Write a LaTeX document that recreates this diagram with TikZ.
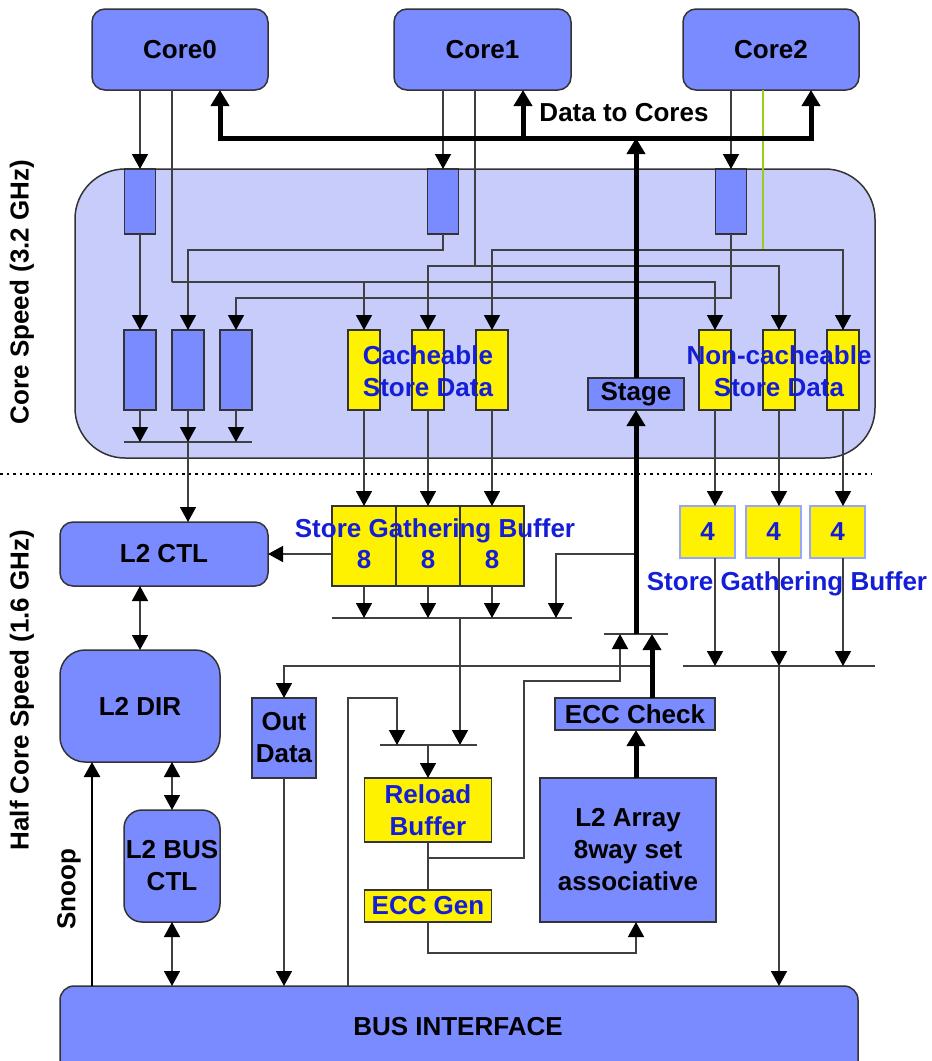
\documentclass[tikz,border=0pt]{standalone}
\usepackage{fontspec}
\setmainfont{Liberation Sans}
\usetikzlibrary{arrows.meta}
\definecolor{nb}{RGB}{122,138,255}
\definecolor{lav}{RGB}{200,204,250}
\definecolor{bd}{RGB}{51,51,51}
\definecolor{wr}{RGB}{64,64,64}
\definecolor{tb}{RGB}{20,30,215}
\definecolor{gl}{RGB}{153,204,30}
\definecolor{lb}{RGB}{150,165,255}
\tikzset{
  sz/.style 2 args={minimum width=#1pt, minimum height=#2pt},
  lbl/.style={font=\fontsize{26}{32}\selectfont\bfseries},
  bx/.style={draw=bd, line width=1.5pt, fill=nb},
  rbx/.style={bx, rounded corners=13pt},
  ybx/.style={draw=bd, line width=1.5pt, fill=yellow},
  wire/.style={draw=wr, line width=1.5pt},
  arr/.style={wire, -{Triangle[length=15pt,width=16pt,color=black]}},
  darr/.style={wire, {Triangle[length=15pt,width=16pt,color=black]}-{Triangle[length=15pt,width=16pt,color=black]}},
  thk/.style={draw=black, line width=5pt},
  tarr/.style={thk, -{Triangle[length=16pt,width=18pt]}},
  bt/.style={text=tb},
}
\begin{document}
\begin{tikzpicture}[x=1pt,y=-1pt, every node/.style={inner sep=0pt, outer sep=0pt, lbl}]
\useasboundingbox (0,0) rectangle (932,1061);
% cores
\node[rbx, sz={176}{81}] (c0) at (180,49.5) {Core0};
\node[rbx, sz={177}{81}] (c1) at (482.5,49.5) {Core1};
\node[rbx, sz={176}{81}] (c2) at (771,49.5) {Core2};
% core-speed region
\node[draw=bd, line width=1.5pt, fill=lav, rounded corners=50pt, sz={800}{289}] (reg) at (475,313.5) {};
\node[bx, sz={31}{65}] (l0) at (140,201.5) {};
\node[bx, sz={31}{65}] (l1) at (443,201.5) {};
\node[bx, sz={31}{65}] (l2) at (731,201.5) {};
\foreach \n/\x in {b1/140,b2/188,b3/236} \node[bx, sz={32}{80}] (\n) at (\x,370) {};
\foreach \n/\x in {y1/364,y2/428,y3/492,n1/715,n2/779,n3/843} \node[ybx, sz={32}{80}] (\n) at (\x,370) {};
\node[bx, sz={96}{32}] (stg) at (636,394) {Stage};
% half-speed blocks
\node[rbx, sz={208}{64}] (ctl) at (164,554) {L2 CTL};
\node[rbx, rounded corners=25pt, sz={160}{112}] (dir) at (140,706) {L2 DIR};
\node[rbx, rounded corners=18pt, sz={96}{112}, align=center] (bctl) at (172,866) {L2 BUS\\CTL};
\node[rbx, rounded corners=14pt, sz={798}{92}] (bus) at (459,1032) {};
\foreach \n/\x in {s1/364,s2/428,s3/492} \node[ybx, sz={64}{80}] (\n) at (\x,546) {};
\foreach \n/\x in {g1/707.5,g2/773.5,g3/837.5} \node[ybx, draw=lb, sz={55}{52}, text=tb] (\n) at (\x,532) {4};
\node[bx, sz={64}{80}, align=center] (od) at (284,738) {Out\\Data};
\node[ybx, sz={127}{64}, align=center, text=tb] (rb) at (428,810) {Reload\\Buffer};
\node[ybx, sz={127}{32}, text=tb] (eg) at (428,906) {ECC Gen};
\node[bx, sz={176}{144}, align=center] (l2a) at (628,850) {L2 Array\\8way set\\associative};
\node[bx, sz={160}{32}] (ecc) at (635,714) {ECC Check};
% coordinates
\coordinate (t0) at (172,90);
\coordinate (t1) at (475,90);
\coordinate (t2) at (763,90);
\coordinate (h0) at (172,282);
\coordinate (h1) at (475,266);
\coordinate (h2) at (763,250);
\coordinate (cl) at (124,442);
\coordinate (cr) at (252,442);
\coordinate (sm) at (332,618);
\coordinate (smr) at (572,618);
\coordinate (gm) at (683,666);
\coordinate (gmr) at (875,666);
\coordinate (mx) at (604,634);
\coordinate (mxr) at (668,634);
\coordinate (rm) at (380,745);
\coordinate (rmr) at (477,745);
\coordinate (xa) at (348,0);
% dotted divider
\draw[line width=2.5pt, dash pattern=on 2.5pt off 4pt] (0,474) -- (872,474);
% core -> latch
\draw[arr] (l0.north |- c0.south) -- (l0.north);
\draw[arr] (l1.north |- c1.south) -- (l1.north);
\draw[arr] (l2.north |- c2.south) -- (l2.north);
% latch -> blue boxes
\draw[arr] (l0.south) -- (b1.north);
\draw[arr] (l1.south) -- (443,250) -| (b2.north);
\draw[arr] (l2.south) -- (731,298) -| (b3.north);
% thin core lines to store data
\draw[wire] (t0) -- (h0);
\draw[arr] (h0) -| (n1.north);
\draw[arr] (y1.north |- h0) -- (y1.north);
\draw[wire] (t1) -- (h1);
\draw[arr] (h1) -| (n2.north);
\draw[arr] (h1) -| (y2.north);
\draw[draw=gl, line width=1.2pt] (t2) -- (h2);
\draw[arr] (h2) -| (n3.north);
\draw[arr] (h2) -| (y3.north);
% collector under blue boxes
\draw[wire] (cl) -- (cr);
\draw[arr] (b1.south) -- (b1.south |- cl);
\draw[arr] (b2.south) -- (b2.south |- cl);
\draw[arr] (b3.south) -- (b3.south |- cl);
\draw[arr] (b2.south |- cl) -- (b2.south |- ctl.north);
% store data -> gathering buffers
\draw[arr] (y1.south) -- (s1.north);
\draw[arr] (y2.south) -- (s2.north);
\draw[arr] (y3.south) -- (s3.north);
\draw[arr] (n1.south) -- (n1.south |- g1.north);
\draw[arr] (n2.south) -- (n2.south |- g2.north);
\draw[arr] (n3.south) -- (n3.south |- g3.north);
% non-cacheable merge
\draw[wire] (gm) -- (gmr);
\draw[arr] (n1.south |- g1.south) -- (n1.south |- gm);
\draw[arr] (n2.south |- g2.south) -- (n2.south |- gm);
\draw[arr] (n3.south |- g3.south) -- (n3.south |- gm);
\draw[arr] (n2.south |- gm) -- (n2.south |- bus.north);
% cacheable SGB
\draw[arr] (s1.west |- ctl.east) -- (ctl.east);
\draw[wire] (sm) -- (smr);
\draw[arr] (s1.south) -- (s1.south |- sm);
\draw[arr] (s2.south) -- (s2.south |- sm);
\draw[arr] (s3.south) -- (s3.south |- sm);
\draw[arr] (636,554) -- (556,554) -- (556,618);
\draw[arr] (460,618) -- (460,745);
% reload mux
\draw[wire] (rm) -- (rmr);
\draw[arr] (bus.north -| xa) -- (348,698) -- (397,698) -- (397,745);
\draw[arr] (rb.north |- rm) -- (rb.north);
\draw[wire] (rb.south) -- (eg.north);
\draw[arr] (428,858) -- (524,858) -- (524,681) -- (620,681) -- (620,634);
\draw[arr] (eg.south) -- (428,953) -- (636,953) -- (636,922);
% ECC mux
\draw[wire] (mx) -- (mxr);
\draw[arr] (652,666) -| (od.north);
\draw[arr] (od.south) -- (od.south |- bus.north);
% thick data path
\draw[tarr] (636,778) -- (636,730);
\draw[tarr] (652,698) -- (652,634);
\draw[tarr] (636,634) -- (stg.south);
\draw[tarr] (stg.north) -- (636,138);
\draw[thk, line join=miter, {Triangle[length=16pt,width=18pt]}-{Triangle[length=16pt,width=18pt]}] (220,90) -- (220,138) -- (811,138) -- (811,90);
\draw[tarr] (523,138) -- (523,90);
% L2 control side
\draw[darr] (ctl.south -| dir.north) -- (dir.north);
\draw[darr] (bctl.north |- dir.south) -- (bctl.north);
\draw[darr] (bctl.south) -- (bctl.south |- bus.north);
\draw[draw=black, line width=2.5pt, -{Triangle[length=15pt,width=16pt]}] (92,986) -- (92,762);
% labels
\node at (624,113) {Data to Cores};
\node[bt, align=center] at (428,371) {Cacheable\\Store Data};
\node[bt, align=center] at (779,371) {Non-cacheable\\Store Data};
\node[bt] at (435,531) {Store Gathering Buffer};
\node[bt] at (364,560) {8};
\node[bt] at (428,560) {8};
\node[bt] at (492,560) {8};
\node[bt] at (787,584) {Store Gathering Buffer};
\node at (458,1027) {BUS INTERFACE};
\node[rotate=90] at (22,292) {Core Speed (3.2 GHz)};
\node[rotate=90] at (22,690) {Half Core Speed (1.6 GHz)};
\node[rotate=90] at (69,889) {Snoop};
\end{tikzpicture}
\end{document}
